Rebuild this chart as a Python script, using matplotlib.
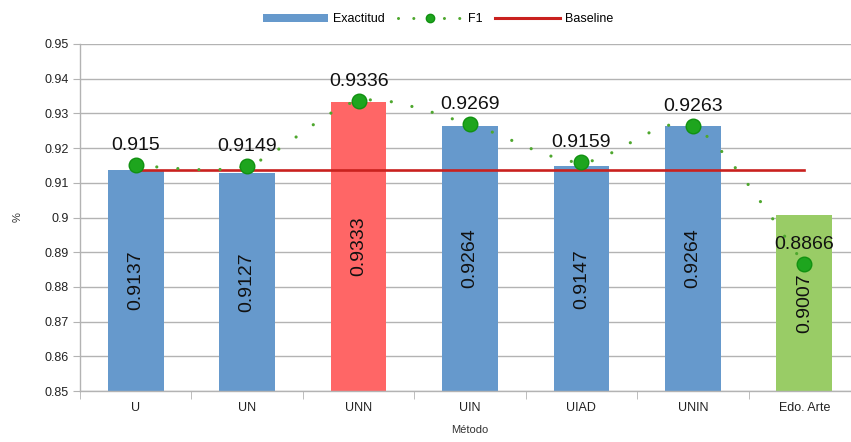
import matplotlib
matplotlib.use("Agg")
import matplotlib.pyplot as plt
from matplotlib.path import Path
from matplotlib.patches import PathPatch, Patch
from matplotlib.lines import Line2D
import numpy as np

plt.rcParams['font.family'] = ['Liberation Sans', 'DejaVu Sans']

categories = ['U', 'UN', 'UNN', 'UIN', 'UIAD', 'UNIN', 'Edo. Arte']
exactitud = [0.9137, 0.9127, 0.9333, 0.9264, 0.9147, 0.9264, 0.9007]
f1 = [0.915, 0.9149, 0.9336, 0.9269, 0.9159, 0.9263, 0.8866]
baseline = 0.9137
bar_colors = ['#6699cc', '#6699cc', '#ff6666', '#6699cc', '#6699cc', '#6699cc', '#99cc66']
yticks = [0.85, 0.86, 0.87, 0.88, 0.89, 0.9, 0.91, 0.92, 0.93, 0.94, 0.95]

fig = plt.figure(figsize=(8.51, 4.42), dpi=100)
ax = fig.add_axes([80 / 851, 1 - 391 / 442, 780 / 851, 347 / 442])

x = np.arange(len(categories))
grid_c = '#b3b3b3'

ax.set_ylim(0.85, 0.95)
ax.set_xlim(-0.5, len(categories) - 0.5)
ax.set_yticks(yticks)
ax.set_yticklabels(['%g' % v for v in yticks], fontsize=9, color='#222222')
ax.yaxis.grid(True, color=grid_c, linewidth=1)
ax.set_axisbelow(True)
ax.tick_params(axis='y', length=5, color=grid_c, pad=3)

ax.set_xticks(x)
ax.set_xticklabels(categories, fontsize=9, color='#222222')
ax.set_xticks(np.arange(-0.5, len(categories)), minor=True)
ax.tick_params(axis='x', which='major', length=0, pad=8)
ax.tick_params(axis='x', which='minor', length=6, color=grid_c)

for s in ['top', 'right']:
    ax.spines[s].set_visible(False)
for s in ['left', 'bottom']:
    ax.spines[s].set_color(grid_c)
    ax.spines[s].set_linewidth(1)

# Bars with vertical value labels
bars = ax.bar(x, [v - 0.85 for v in exactitud], bottom=0.85, width=0.5,
              color=bar_colors, zorder=2)
for xi, v in zip(x, exactitud):
    ax.text(xi, (0.85 + v) / 2, '%g' % v, rotation=90, ha='center',
            va='center', fontsize=14, color='#111111', zorder=5)

# Baseline
ax.plot([x[0], x[-1]], [baseline, baseline], color='#c9211e', linewidth=1.9,
        zorder=3)

# Smoothed F1 curve (Catmull-Rom Bezier)
pts = np.column_stack([x, f1]).astype(float)
ext = np.vstack([pts[0], pts, pts[-1]])
verts = [tuple(pts[0])]
codes = [Path.MOVETO]
k = 7.0
for i in range(len(pts) - 1):
    p0, p1, p2, p3 = ext[i], ext[i + 1], ext[i + 2], ext[i + 3]
    c1 = p1 + (p2 - p0) / k
    c2 = p2 - (p3 - p1) / k
    verts += [tuple(c1), tuple(c2), tuple(p2)]
    codes += [Path.CURVE4] * 3
curve = PathPatch(Path(verts, codes), fill=False, edgecolor='#4ea72e',
                  linewidth=2.3, linestyle=(0, (0.01, 6.6)),
                  capstyle='round', zorder=4)
ax.add_patch(curve)

ax.plot(x, f1, linestyle='none', marker='o', markersize=10.5,
        markerfacecolor='#1ea51e', markeredgecolor='#119111',
        markeredgewidth=1, zorder=6)
for xi, v in zip(x, f1):
    ax.annotate('%g' % v, (xi, v), xytext=(0, 8), textcoords='offset points',
                ha='center', va='bottom', fontsize=14, color='#111111',
                zorder=7)

ax.set_xlabel('Método', fontsize=8, color='#333333', labelpad=8)
ax.set_ylabel('%', fontsize=8, color='#333333', labelpad=16)

handles = [
    Patch(facecolor='#6699cc', edgecolor='none'),
    Line2D([0], [0], color='#4ea72e', linewidth=2.2, linestyle=(0, (0.01, 5)),
           dash_capstyle='round', marker='o', markersize=6,
           markerfacecolor='#1ea51e', markeredgecolor='#119111'),
    Line2D([0], [0], color='#c9211e', linewidth=2.2),
]
fig.legend(handles, ['Exactitud', 'F1', 'Baseline'], loc='upper center',
           bbox_to_anchor=(0.515, 0.995), ncol=3, frameon=False, fontsize=9,
           handlelength=5.2, handleheight=0.5, columnspacing=1.0,
           handletextpad=0.4)

fig.savefig('out.png', dpi=100)
